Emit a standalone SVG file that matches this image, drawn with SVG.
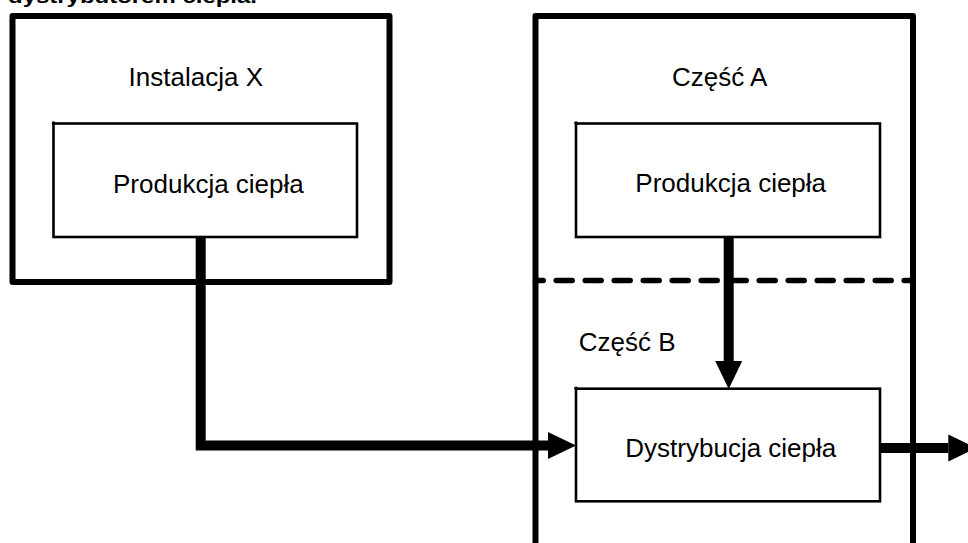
<svg xmlns="http://www.w3.org/2000/svg" width="968" height="543" viewBox="0 0 968 543">
<defs>
<style>
.lbl{font-family:"Liberation Sans",Arial,sans-serif;font-size:26px;fill:#000}
.head{font-family:"Liberation Sans",Arial,sans-serif;font-size:18px;font-weight:bold;fill:#000}
.outer{fill:none;stroke:#000;stroke-width:6;stroke-linejoin:round}
.inner{fill:#fff;stroke:#000;stroke-width:2.6}
.flow{fill:none;stroke:#000;stroke-width:10}
.dash{fill:none;stroke:#000;stroke-width:5.5;stroke-linecap:round;stroke-dasharray:16 13;stroke-dashoffset:8.3}
</style>
<marker id="ah" markerUnits="userSpaceOnUse" markerWidth="30" markerHeight="28" refX="0" refY="13.5" orient="auto" overflow="visible">
<path d="M0,0 L28,13.5 L0,27 Z" fill="#000"/>
</marker>
</defs>
<rect width="968" height="543" fill="#fff"/>
<text class="head" x="8" y="3" textLength="249" lengthAdjust="spacingAndGlyphs">dystrybutorem ciepła.</text>

<g id="instalacja-x">
<rect class="outer" x="12.5" y="16" width="377" height="266"/>
<text class="lbl" x="128.6" y="86">Instalacja X</text>
</g>

<g id="czesc-container">
<path class="outer" d="M535.5 543 V16 H913 V543"/>
<text class="lbl" x="672" y="86">Część A</text>
<line class="dash" x1="535.5" y1="280.5" x2="913" y2="280.5"/>
<text class="lbl" x="578.7" y="351">Część B</text>
</g>

<g id="produkcja-x">
<rect class="inner" x="53.5" y="123.5" width="303.5" height="113.5"/>
<circle cx="53.5" cy="123" r="1.8" fill="#000"/>
<text class="lbl" x="113" y="192.5">Produkcja ciepła</text>
</g>

<g id="produkcja-a">
<rect class="inner" x="576" y="123.5" width="304" height="113.5"/>
<circle cx="576" cy="123" r="1.8" fill="#000"/>
<text class="lbl" x="635.3" y="192">Produkcja ciepła</text>
</g>

<g id="connectors">
<path class="flow" d="M200.7 237 V445.5 H548" marker-end="url(#ah)"/>
<path class="flow" d="M728.7 237 V361" marker-end="url(#ah)"/>
<path class="flow" d="M880 448 H948.3" marker-end="url(#ah)"/>
</g>

<g id="dystrybucja-b">
<rect class="inner" x="576" y="388.7" width="304" height="112.6"/>
<circle cx="576" cy="388.2" r="1.8" fill="#000"/>
<text class="lbl" x="625.3" y="456.7">Dystrybucja ciepła</text>
</g>
</svg>
